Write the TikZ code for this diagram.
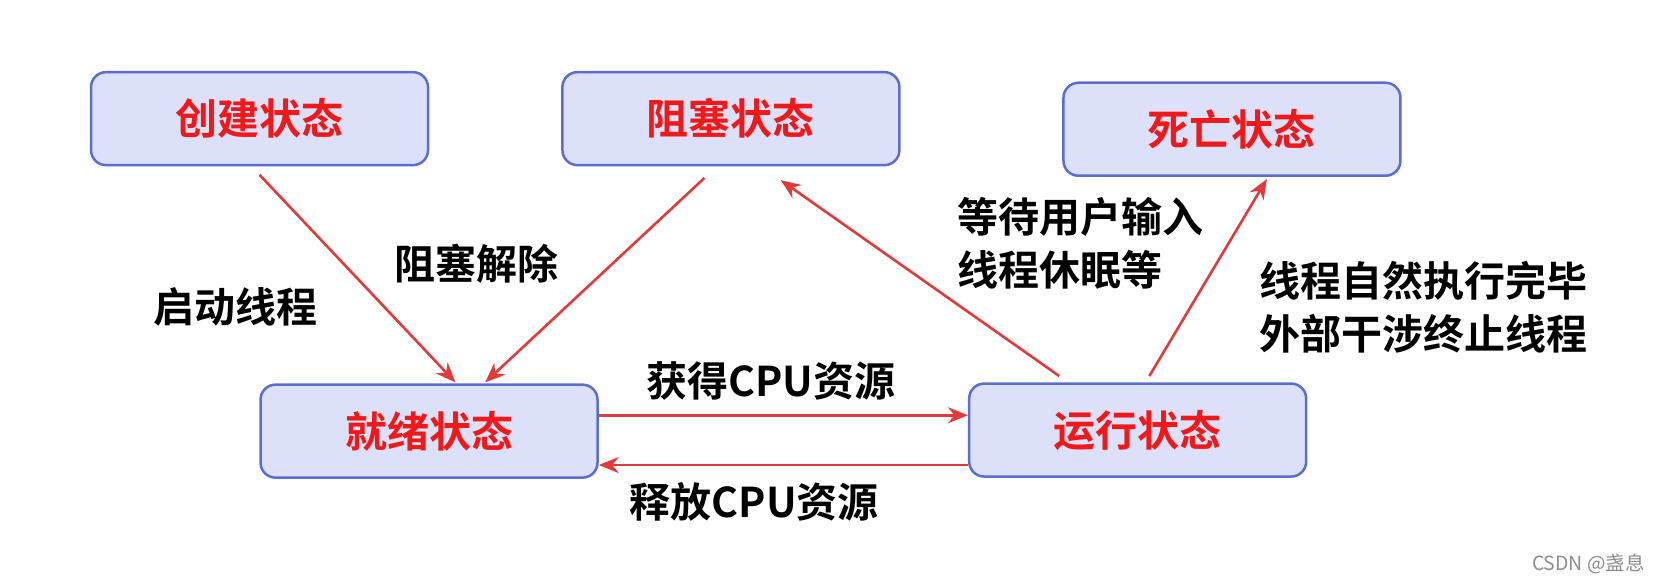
\documentclass[tikz,border=0pt]{standalone}
\usepackage{fontspec}
\setmainfont{Liberation Sans}
\newfontfamily\cjk{Noto Sans CJK SC}[BoldFont={* Bold}]
\usetikzlibrary{arrows.meta}
\definecolor{boxfill}{HTML}{DCE0F8}
\definecolor{boxline}{HTML}{5A6ED2}
\definecolor{arr}{HTML}{E23A3A}
\definecolor{txtred}{HTML}{F01818}
\tikzset{
  state/.style={draw=boxline, line width=2.5pt, fill=boxfill, rounded corners=15pt,
    minimum width=337pt, minimum height=93pt, inner sep=0pt,
    font=\cjk\bfseries\fontsize{42}{46}\selectfont, text=txtred},
  lab/.style={font=\cjk\bfseries\fontsize{41}{53}\selectfont, text=black, inner sep=0pt},
  conn/.style={draw=arr, line width=2.6pt, -{Stealth[length=20pt,width=16pt]}},
}
\begin{document}
\begin{tikzpicture}[x=1.0593pt,y=-1.0593pt]
\useasboundingbox (0pt,0pt) rectangle (1661pt,-583pt);
\node[state] (create) at (245,112) {创建状态};
\node[state] (block) at (690,112) {阻塞状态};
\node[state] (dead) at (1163,122) {死亡状态};
\node[state] (ready) at (405,407) {就绪状态};
\node[state] (run) at (1074,406) {运行状态};
\coordinate (c1) at (245,165);
\coordinate (c2) at (430,361);
\coordinate (b1) at (665,168);
\coordinate (b2) at (458,361);
\coordinate (r1) at (1000,355);
\coordinate (r2) at (737,170);
\coordinate (d1) at (1085,355);
\coordinate (d2) at (1196,169);
\draw[conn] (c1) -- (c2);
\draw[conn] (b1) -- (b2);
\draw[conn] (r1) -- (r2);
\draw[conn] (d1) -- (d2);
\draw[conn] (ready.east |- 0,392) -- (run.west |- 0,392);
\draw[conn] (run.west |- 0,439) -- (ready.east |- 0,439);
\node[lab] (l1) at (222,290) {启动线程};
\node[lab] (l2) at (450,249) {阻塞解除};
\node[lab, anchor=west, align=left] (l3) at (904,230) {等待用户输入\\线程休眠等};
\node[lab, anchor=west, align=left] (l4) at (1189,290) {线程自然执行完毕\\外部干涉终止线程};
\node[lab] (l5) at (728,360) {获得CPU资源};
\node[lab] (l6) at (712,474) {释放CPU资源};
\node[font=\cjk\fontsize{19.5}{22}\selectfont, text=black!45, anchor=east, inner sep=0pt] (wm) at (1553,532) {CSDN @盏息};
\end{tikzpicture}
\end{document}
